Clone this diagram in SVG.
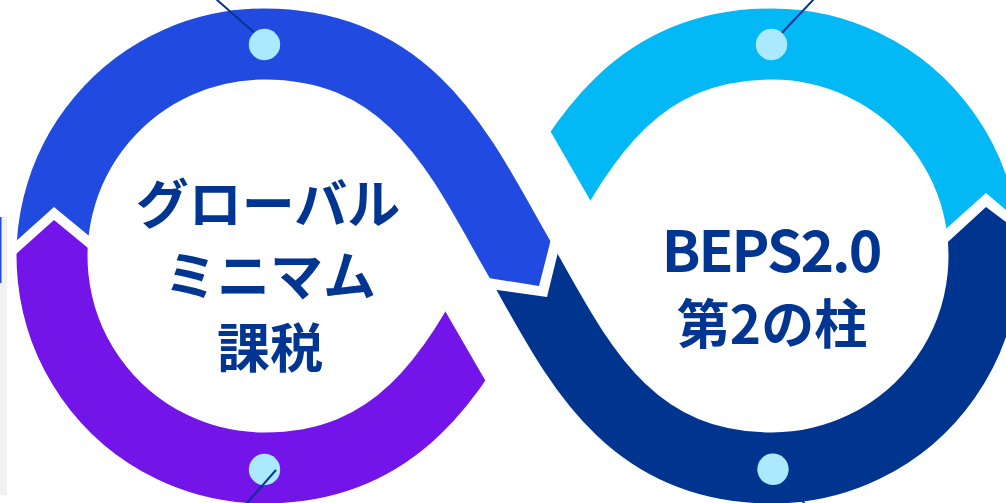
<svg xmlns="http://www.w3.org/2000/svg" width="1006" height="503" viewBox="0 0 1006 503">
  <style>
    .band { fill: none; stroke-width: 71; stroke-linecap: butt; }
    .dot { fill: #aae9ff; }
    .lead { stroke: #003591; stroke-width: 2; fill: none; }
    .lbl { font-family: "Noto Sans CJK JP", "Noto Sans", sans-serif; font-weight: bold; fill: #003591; text-anchor: middle; }
  </style>
  <defs>
    <clipPath id="clipBlue"><polygon points="0,0 0,255.5 54,207 130,269.6 470,275 539,286 556,219.6 700,0"/></clipPath>
    <clipPath id="clipPurple"><polygon points="0,268.4 54,220 118.9,273.4 381,200 556,503 0,503"/></clipPath>
    <clipPath id="clipNavy"><polygon points="477.2,287.2 547,297 562.8,232.6 931.6,256.9 986,207 1006,222 1006,503 477,503"/></clipPath>
    <clipPath id="clipCyan"><polygon points="474.6,0 1006,0 1006,210 986,193 933.1,240.3 647.8,300"/></clipPath>
  </defs>
  <rect width="1006" height="503" fill="#ffffff"/>
  <rect x="0" y="217" width="7" height="278" fill="#f1f1f1"/>
  <rect x="0" y="217" width="1.5" height="66" fill="#214be0"/>

  <g id="connectors">
    <path id="seg-purple" class="band" stroke="#7315e8" clip-path="url(#clipPurple)" d="M 518 256 C 463 351.3 414 468 264 468 A 212 212 0 0 1 64.8 183.5"/>
    <path id="seg-blue" class="band" stroke="#214be0" clip-path="url(#clipBlue)" d="M 55.2 292.8 A 212 212 0 0 1 264 44 C 414 44 463 160.7 518 256 L 543 299.3"/>
    <path id="seg-navy" class="band" stroke="#00358f" clip-path="url(#clipNavy)" d="M 493 212.7 L 518 256 C 573 351.3 622 468 772 468 A 212 212 0 0 0 971.2 183.5"/>
    <path id="seg-cyan" class="band" stroke="#03b9f5" clip-path="url(#clipCyan)" d="M 518 256 C 573 160.7 622 44 772 44 A 212 212 0 0 1 971.2 328.5"/>
    <line class="lead" x1="216" y1="-1" x2="258" y2="36"/>
    <line class="lead" x1="814" y1="-1" x2="778" y2="37"/>
    <line class="lead" x1="776" y1="472" x2="805" y2="504"/>
  </g>

  <g id="dots">
    <circle class="dot" cx="264.5" cy="44.5" r="15.7"/>
    <circle class="dot" cx="771.5" cy="44.5" r="15.7"/>
    <circle class="dot" cx="264.5" cy="469.5" r="15.7"/>
    <circle class="dot" cx="773" cy="469.3" r="15.7"/>
    <line class="lead" x1="276" y1="470" x2="246" y2="504"/>
  </g>

  <g id="node-left">
    <text class="lbl" x="268" y="224" font-size="53">グローバル</text>
    <text class="lbl" x="270" y="296" font-size="53">ミニマム</text>
    <text class="lbl" x="270" y="368" font-size="53">課税</text>
  </g>
  <g id="node-right">
    <text class="lbl" x="771" y="272" font-size="57" letter-spacing="-2">BEPS2.0</text>
    <text class="lbl" x="772" y="344" font-size="53">第2の柱</text>
  </g>
</svg>
